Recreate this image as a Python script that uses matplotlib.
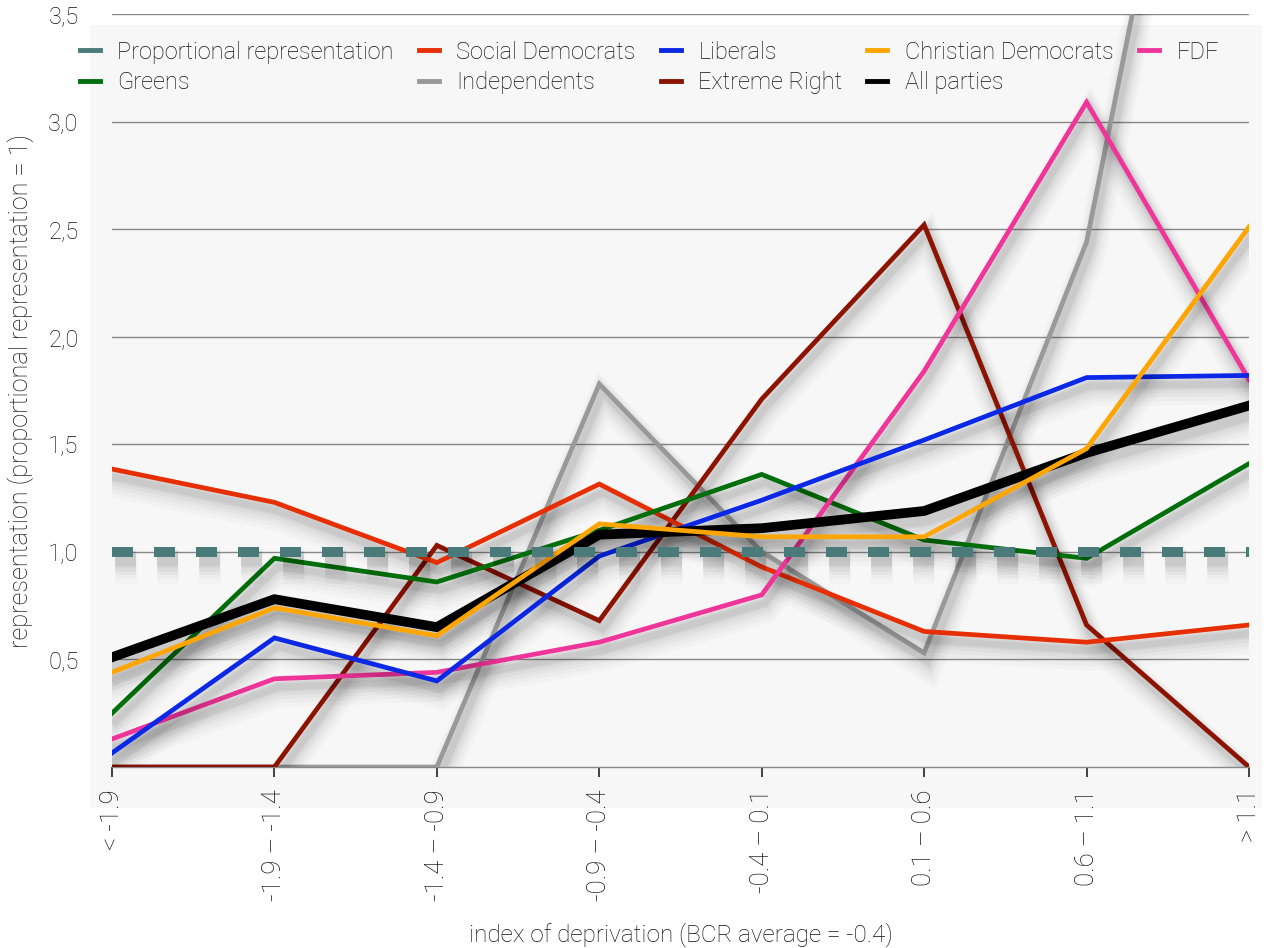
import matplotlib
matplotlib.use("Agg")
import matplotlib.pyplot as plt
import matplotlib.patheffects as pe
from matplotlib.lines import Line2D
from matplotlib.patches import Rectangle

# ---- data ----
categories = ['< -1.9', '-1.9 – -1.4', '-1.4 – -0.9', '-0.9 – -0.4',
              '-0.4 – 0.1', '0.1 – 0.6', '0.6 – 1.1', '> 1.1']
proportional = [1.0, 1.0, 1.0, 1.0, 1.0, 1.0, 1.0, 1.0]
social_democrats = [1.385, 1.23, 0.95, 1.315, 0.93, 0.63, 0.58, 0.66]
greens = [0.25, 0.97, 0.86, 1.10, 1.36, 1.055, 0.97, 1.41]
liberals = [0.065, 0.60, 0.40, 0.98, 1.24, 1.52, 1.81, 1.82]
christian_democrats = [0.44, 0.74, 0.61, 1.13, 1.07, 1.07, 1.48, 2.51]
fdf = [0.13, 0.41, 0.44, 0.58, 0.80, 1.84, 3.09, 1.80]
independents = [0.0, 0.0, 0.0, 1.78, 1.00, 0.53, 2.44, 6.2]
extreme_right = [0.0, 0.0, 1.03, 0.68, 1.71, 2.52, 0.66, 0.0]
all_parties = [0.51, 0.78, 0.65, 1.08, 1.11, 1.19, 1.46, 1.68]

y_ticks = [0.5, 1.0, 1.5, 2.0, 2.5, 3.0, 3.5]
y_ticklabels = ['0,5', '1,0', '1,5', '2,0', '2,5', '3,0', '3,5']

plt.rcParams['font.family'] = ['Roboto', 'DejaVu Sans']
plt.rcParams['font.weight'] = 'light'
plt.rcParams['axes.labelweight'] = 'light'

TXT = '#111111'
FS = 17

fig = plt.figure(figsize=(12.88, 9.48), dpi=100)
fig.patch.set_facecolor('white')
bg = Rectangle((90/1288, 1-808/948), (1262-90)/1288, (808-25)/948,
               transform=fig.transFigure, facecolor='#f7f7f7',
               edgecolor='none', zorder=-10)
fig.add_artist(bg)

ax = fig.add_axes([112/1288, 1-767/948, (1249-112)/1288, (767-14)/948])
ax.set_facecolor('none')
ax.set_zorder(1)
x = list(range(len(categories)))


def shadow(lw):
    layers = []
    for extra, dy, a in [(18, -10, 0.018), (14, -9, 0.022), (10, -8, 0.028),
                         (7, -7, 0.032), (4, -6, 0.04), (1.5, -6, 0.045)]:
        layers.append(pe.SimpleLineShadow(offset=(2.5, dy), shadow_color='black',
                                          alpha=a, linewidth=lw + extra))
    layers.append(pe.Normal())
    return layers


series = [
    ('Independents', independents, '#999999', 3.4, 3),
    ('Extreme Right', extreme_right, '#8b1300', 3.4, 3),
    ('Social Democrats', social_democrats, '#e62e00', 3.4, 4),
    ('Greens', greens, '#006e0a', 3.4, 4),
    ('FDF', fdf, '#f0359a', 3.4, 4),
    ('Liberals', liberals, '#0a28e6', 3.4, 5),
    ('All parties', all_parties, '#000000', 7.0, 5),
    ('Christian Democrats', christian_democrats, '#ffa500', 3.4, 6),
]
for name, vals, col, lw, z in series:
    ax.plot(x, vals, color=col, lw=lw, zorder=z, solid_joinstyle='miter',
            path_effects=shadow(lw))

ax.plot(x, proportional, color='#4a7a7a', lw=7.2, dashes=(2.1, 2.1),
        dash_capstyle='butt', zorder=7, path_effects=shadow(7.2))

ax.set_xlim(0, len(categories) - 1)
ax.set_ylim(0, 3.5)
ax.set_yticks(y_ticks)
ax.set_yticklabels(y_ticklabels, fontsize=FS, color=TXT)
ax.set_xticks(x)
ax.set_xticklabels(categories, rotation=90, fontsize=18.5, color=TXT, va='top')
ax.tick_params(axis='y', length=0, pad=24)
ax.tick_params(axis='x', length=7, width=1.2, color='#222222', pad=9, direction='out')
ax.grid(axis='y', color='#888888', lw=1.0, zorder=1)
for s in ['left', 'right', 'top']:
    ax.spines[s].set_visible(False)
ax.spines['bottom'].set_color('#888888')
ax.spines['bottom'].set_linewidth(1.0)

ax.set_ylabel('representation (proportional representation = 1)', fontsize=18.2,
              color=TXT, labelpad=10)
ax.set_xlabel('index of deprivation (BCR average = -0.4)', fontsize=17.5,
              color=TXT, labelpad=15)

legend_items = [
    ('Proportional representation', '#4a7a7a'),
    ('Greens', '#006e0a'),
    ('Social Democrats', '#e62e00'),
    ('Independents', '#999999'),
    ('Liberals', '#0a28e6'),
    ('Extreme Right', '#8b1300'),
    ('Christian Democrats', '#ffa500'),
    ('All parties', '#000000'),
    ('FDF', '#f0359a'),
]
handles = [Line2D([], [], color=c, lw=3.5) for _, c in legend_items]
labels = [n for n, _ in legend_items]
leg = fig.legend(handles, labels, ncol=5, loc='upper left',
                 bbox_to_anchor=(63/1288, 1-24/948), frameon=False,
                 fontsize=FS, handlelength=0.85, handletextpad=0.75,
                 columnspacing=1.05, labelspacing=0.32, borderpad=0.2)
leg.set_zorder(10)
for t in leg.get_texts():
    t.set_color(TXT)

fig.savefig('out.png', dpi=100)
